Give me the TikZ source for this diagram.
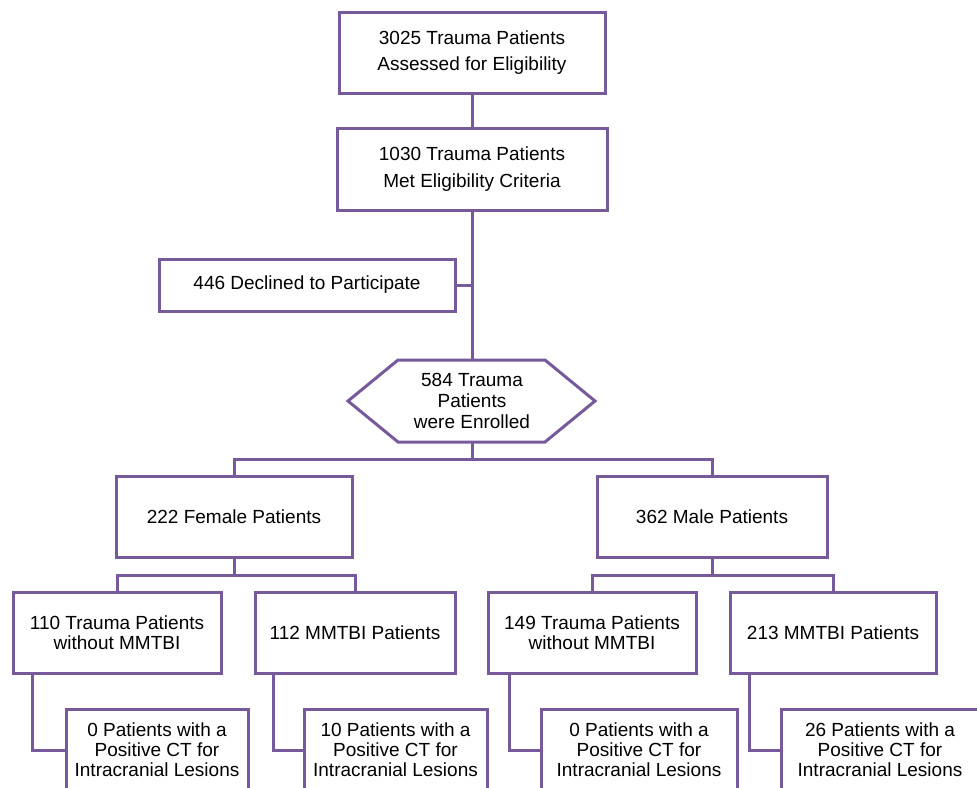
\documentclass[tikz,border=0pt]{standalone}
\usepackage{fontspec}
\setmainfont{Liberation Sans}
\definecolor{lineviolet}{RGB}{118,90,155}
\begin{document}
\begin{tikzpicture}[x=1pt,y=-1pt,
  box/.style={draw=lineviolet,line width=3pt,fill=white,align=center,inner sep=0pt,text=black},
  topfont/.style={font=\fontsize{19}{26.5}\selectfont},
  midfont/.style={font=\fontsize{19}{20.5}\selectfont},
  lowfont/.style={font=\fontsize{19}{20}\selectfont},
  link/.style={draw=lineviolet,line width=3pt}]
\useasboundingbox (0,0) rectangle (977,787);
\clip (0,0) rectangle (977,787);

% top boxes
\node[box,topfont,minimum width=266pt,minimum height=81pt] (b1) at (472,52.5) {3025 Trauma Patients\\Assessed for Eligibility};
\node[box,topfont,minimum width=270pt,minimum height=82pt] (b2) at (472,169) {1030 Trauma Patients\\Met Eligibility Criteria};
\node[box,topfont,minimum width=296pt,minimum height=52pt] (decl) at (307,285) {446 Declined to Participate};

% hexagon
\draw[lineviolet,line width=3pt,fill=white] (348,401) -- (398,360) -- (545,360) -- (595,401) -- (545,442) -- (398,442) -- cycle;
\node[align=center,inner sep=0pt,font=\fontsize{19}{21}\selectfont,minimum width=247pt,minimum height=82pt] (hex) at (472,401) {584 Trauma\\Patients\\were Enrolled};

% level 2
\node[box,midfont,minimum width=236pt,minimum height=81pt] (fem) at (234,516.5) {222 Female Patients};
\node[box,midfont,minimum width=230pt,minimum height=81pt] (male) at (712,516.5) {362 Male Patients};

% level 3
\node[box,midfont,minimum width=208pt,minimum height=81pt] (b110) at (117,632.5) {110 Trauma Patients\\without MMTBI};
\node[box,midfont,minimum width=200pt,minimum height=81pt] (b112) at (355,632.5) {112 MMTBI Patients};
\node[box,midfont,minimum width=208pt,minimum height=81pt] (b149) at (592,632.5) {149 Trauma Patients\\without MMTBI};
\node[box,midfont,minimum width=206pt,minimum height=81pt] (b213) at (833,632.5) {213 MMTBI Patients};

% level 4 (cut off at the bottom)
\node[box,lowfont,minimum width=182pt,minimum height=82pt] (c0a) at (157,750) {0 Patients with a\\Positive CT for\\Intracranial Lesions};
\node[box,lowfont,minimum width=183pt,minimum height=82pt] (c10) at (395.5,750) {10 Patients with a\\Positive CT for\\Intracranial Lesions};
\node[box,lowfont,minimum width=196pt,minimum height=82pt] (c0b) at (639,750) {0 Patients with a\\Positive CT for\\Intracranial Lesions};
\node[box,lowfont,minimum width=198pt,minimum height=82pt] (c26) at (880,750) {26 Patients with a\\Positive CT for\\Intracranial Lesions};

% junctions
\coordinate (j1) at (472,459);
\coordinate (j2) at (234,575);
\coordinate (j3) at (712,575);

% connectors
\draw[link] (b1.south) -- (b2.north);
\draw[link] (b2.south) -- (hex.north);
\draw[link] (decl.east) -- (decl.east -| b2.south);
\draw[link] (hex.south) -- (j1);
\draw[link] (fem.north) |- (j1) -| (male.north);
\draw[link] (fem.south) -- (j2);
\draw[link] (b110.north) |- (j2) -| (b112.north);
\draw[link] (male.south) -- (j3);
\draw[link] (b149.north) |- (j3) -| (b213.north);
\draw[link] ([xshift=21pt]b110.south west) |- (c0a.west);
\draw[link] ([xshift=20pt]b112.south west) |- (c10.west);
\draw[link] ([xshift=23pt]b149.south west) |- (c0b.west);
\draw[link] ([xshift=21pt]b213.south west) |- (c26.west);
\end{tikzpicture}
\end{document}
